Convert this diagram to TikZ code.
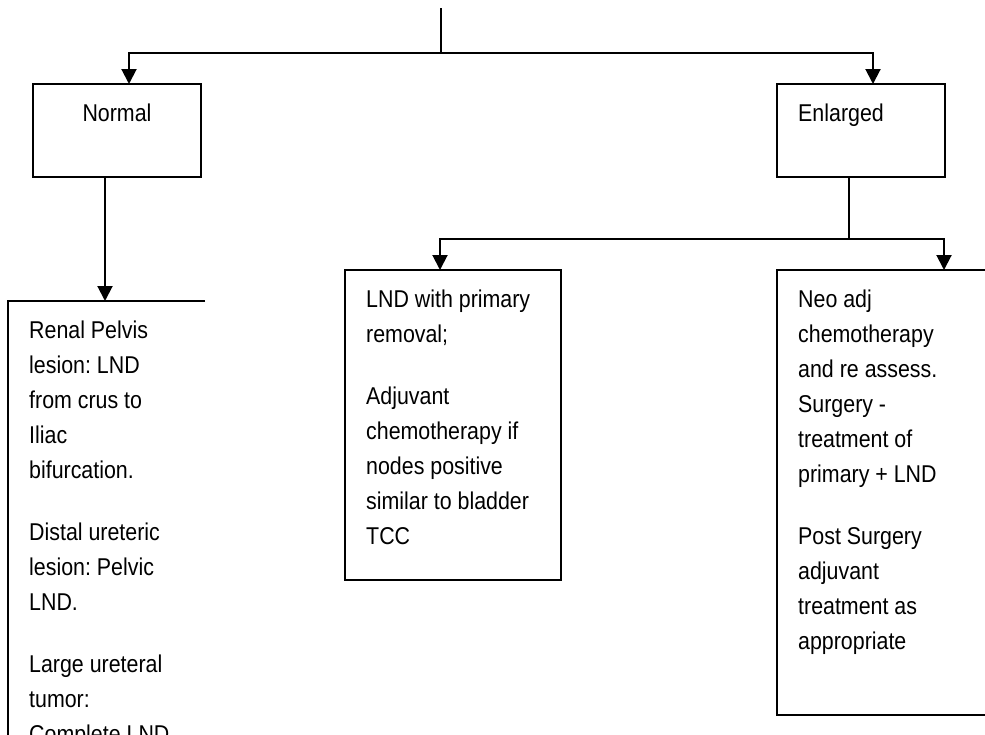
\documentclass[tikz,border=0pt]{standalone}
\usepackage{fontspec}
\setmainfont{Liberation Sans}[FakeStretch=0.88]
\usetikzlibrary{arrows.meta}
\frenchspacing
\begin{document}
\begin{tikzpicture}[x=1pt,y=-1pt,
  ln/.style={line width=2pt},
  arr/.style={ln,-{Triangle[width=15pt,length=15pt]}},
  box/.style={draw,line width=2pt,inner sep=0pt,outer sep=0pt},
  openbox/.style={inner sep=0pt,outer sep=0pt},
  lbl/.style={inner sep=0pt,anchor=base,font=\fontsize{24.3pt}{35pt}\selectfont},
  txt/.style={inner sep=0pt,anchor=base west,font=\fontsize{24.3pt}{35pt}\selectfont}
]
\useasboundingbox (0,0) rectangle (985,734);
\clip (0,0) rectangle (985,734);

% top boxes
\node[box,minimum width=168pt,minimum height=93pt] (normal) at (117,130.5) {};
\node[box,minimum width=168pt,minimum height=93pt] (enlarged) at (861,130.5) {};
\node[lbl] (normaltxt) at (117,121) {Normal};
\node[lbl] (enlargedtxt) at (841,121) {Enlarged};

% lower boxes
\node[openbox,minimum width=197pt,minimum height=480pt] (lbox) at (106.5,541) {};
\node[box,minimum width=216pt,minimum height=310pt] (mbox) at (453,425) {};
\node[openbox,minimum width=240pt,minimum height=445pt] (rbox) at (897,492.5) {};
\draw[ln] (lbox.north east) -- (lbox.north west) -- (lbox.south west);
\draw[ln] (rbox.north east) -- (rbox.north west) -- (rbox.south west) -- (rbox.south east);

% texts
\node[txt] (ltxt) at (29,338) {\parbox[t]{190pt}{\raggedright\frenchspacing
Renal Pelvis\\ lesion: LND\\ from crus to\\ Iliac\\ bifurcation.\\[27pt]
Distal ureteric\\ lesion: Pelvic\\ LND.\\[27pt]
Large ureteral\\ tumor:\\ Complete LND}};
\node[txt] (mtxt) at (366,307) {\parbox[t]{190pt}{\raggedright\frenchspacing
LND with primary\\ removal;\\[27pt]
Adjuvant\\ chemotherapy if\\ nodes positive\\ similar to bladder\\ TCC}};
\node[txt] (rtxt) at (798,307) {\parbox[t]{190pt}{\raggedright\frenchspacing
Neo adj\\ chemotherapy\\ and re assess.\\ Surgery -\\ treatment of\\ primary + LND\\[27pt]
Post Surgery\\ adjuvant\\ treatment as\\ appropriate}};

% connectors
\coordinate (top) at (441,8);
\coordinate (jn) at (441,53);
\draw[ln] (top) -- (jn);
\draw[arr] (jn) -| ([xshift=12pt]normal.north);
\draw[arr] (jn) -| ([xshift=12pt]enlarged.north);
\draw[arr] ([xshift=-12pt]normal.south) -- ([xshift=-12pt]normal.south |- lbox.north);
\coordinate (ej) at ([xshift=-12pt]enlarged.south |- 0,239);
\draw[ln] ([xshift=-12pt]enlarged.south) -- (ej);
\draw[arr] (ej) -| ([xshift=-13pt]mbox.north);
\draw[arr] (ej) -| (944,270);
\end{tikzpicture}
\end{document}
